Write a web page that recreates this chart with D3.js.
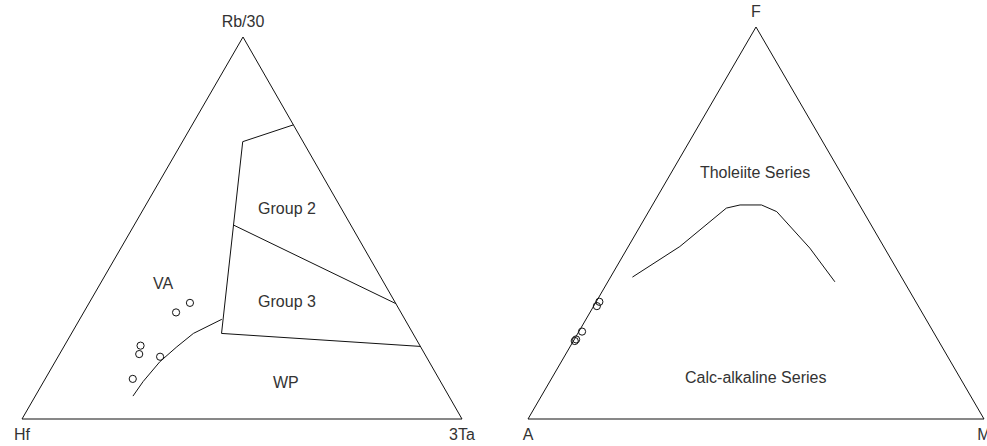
<!DOCTYPE html>
<html>
<head>
<meta charset="utf-8">
<script src="https://cdn.jsdelivr.net/npm/d3@7"></script>
<style>
  html, body { margin: 0; padding: 0; background: #fff; }
  svg { display: block; font-family: "Liberation Sans", Arial, sans-serif; }
</style>
</head>
<body>
<svg id="chart" width="987" height="446"></svg>
<script>
// compositions are [left, top, right] fractions

// Hf - Rb/30 - 3Ta diagram
var hfLabels = ["Hf", "Rb/30", "3Ta"];
var hfSamples = [
  [0.467, 0.304, 0.229],
  [0.511, 0.279, 0.210],
  [0.635, 0.192, 0.173],
  [0.649, 0.170, 0.181],
  [0.605, 0.163, 0.232],
  [0.696, 0.105, 0.199]
];
var hfFieldLines = [
  [[0.000, 0.770, 0.230], [0.137, 0.726, 0.137], [0.435, 0.224, 0.341], [0.000, 0.190, 0.810]],
  [[0.267, 0.508, 0.225], [0.000, 0.302, 0.698]],
  [[0.718, 0.060, 0.222], [0.676, 0.098, 0.226], [0.612, 0.150, 0.238],
   [0.554, 0.189, 0.257], [0.499, 0.224, 0.277], [0.416, 0.261, 0.323]]
];
var hfFields = ["VA", "Group 2", "Group 3", "WP"];
var hfFieldPos = [
  [0.502, 0.356, 0.142],
  [0.123, 0.552, 0.325],
  [0.244, 0.309, 0.447],
  [0.352, 0.097, 0.551]
];

// AFM diagram
var afmLabels = ["A", "F", "M"];
var afmSamples = [
  [0.694, 0.299, 0.007],
  [0.705, 0.288, 0.007],
  [0.770, 0.223, 0.007],
  [0.793, 0.203, 0.004],
  [0.798, 0.199, 0.003]
];
var afmFieldLines = [
  [[0.590, 0.362, 0.048], [0.447, 0.440, 0.113], [0.296, 0.538, 0.166],
   [0.262, 0.546, 0.192], [0.215, 0.546, 0.239], [0.190, 0.529, 0.281],
   [0.164, 0.436, 0.400], [0.152, 0.350, 0.498]]
];
var afmFields = ["Tholeiite Series", "Calc-alkaline Series"];
var afmFieldPos = [
  [0.187, 0.630, 0.183],
  [0.448, 0.105, 0.447]
];

var svg = d3.select("#chart");
var textColor = "#333";

function drawTernary(v, labels, samples, lines, fields, fieldPos) {
  // v: [leftVertex, topVertex, rightVertex] in pixels
  var y = d3.scaleLinear().domain([0, 1]).range([v[0][1], v[1][1]]);
  var x = d3.scaleLinear().domain([0, 1]).range([v[0][0], v[2][0]]);
  var k = (v[1][0] - v[0][0]) / (v[2][0] - v[0][0]);
  var proj = function(c) {
    var s = c[0] + c[1] + c[2];
    var t = c[1] / s, r = c[2] / s;
    return [x(r + t * k), y(t)];
  };

  var g = svg.append("g");
  var line = d3.line().x(function(d) { return proj(d)[0]; }).y(function(d) { return proj(d)[1]; });

  // frame
  g.append("path")
    .attr("d", line([[1, 0, 0], [0, 1, 0], [0, 0, 1], [1, 0, 0]]))
    .attr("fill", "none")
    .attr("stroke", "#111")
    .attr("stroke-width", 1);

  g.selectAll(".field").data(lines).enter()
    .append("path")
    .attr("class", "field")
    .attr("d", line)
    .attr("fill", "none")
    .attr("stroke", "#111")
    .attr("stroke-width", 1);

  g.selectAll(".pt").data(samples).enter()
    .append("circle")
    .attr("class", "pt")
    .attr("cx", function(d) { return proj(d)[0]; })
    .attr("cy", function(d) { return proj(d)[1]; })
    .attr("r", 3.6)
    .attr("fill", "none")
    .attr("stroke", "#111")
    .attr("stroke-width", 1);

  g.selectAll(".flab").data(fields).enter()
    .append("text")
    .attr("class", "flab")
    .attr("x", function(d, i) { return proj(fieldPos[i])[0]; })
    .attr("y", function(d, i) { return proj(fieldPos[i])[1]; })
    .attr("dy", "0.35em")
    .attr("text-anchor", "middle")
    .attr("font-size", 16)
    .attr("fill", textColor)
    .text(function(d) { return d; });

  // vertex labels
  var corners = [[1, 0, 0], [0, 1, 0], [0, 0, 1]];
  g.selectAll(".vlab").data(labels).enter()
    .append("text")
    .attr("class", "vlab")
    .attr("x", function(d, i) { return proj(corners[i])[0]; })
    .attr("y", function(d, i) { return proj(corners[i])[1] + (i === 1 ? -10 : 21); })
    .attr("text-anchor", "middle")
    .attr("font-size", 16)
    .attr("fill", textColor)
    .text(function(d) { return d; });
}

drawTernary([[22, 419], [243, 37], [462, 419]], hfLabels, hfSamples, hfFieldLines, hfFields, hfFieldPos);
drawTernary([[528, 419], [756, 27], [984, 419]], afmLabels, afmSamples, afmFieldLines, afmFields, afmFieldPos);
</script>
</body>
</html>
